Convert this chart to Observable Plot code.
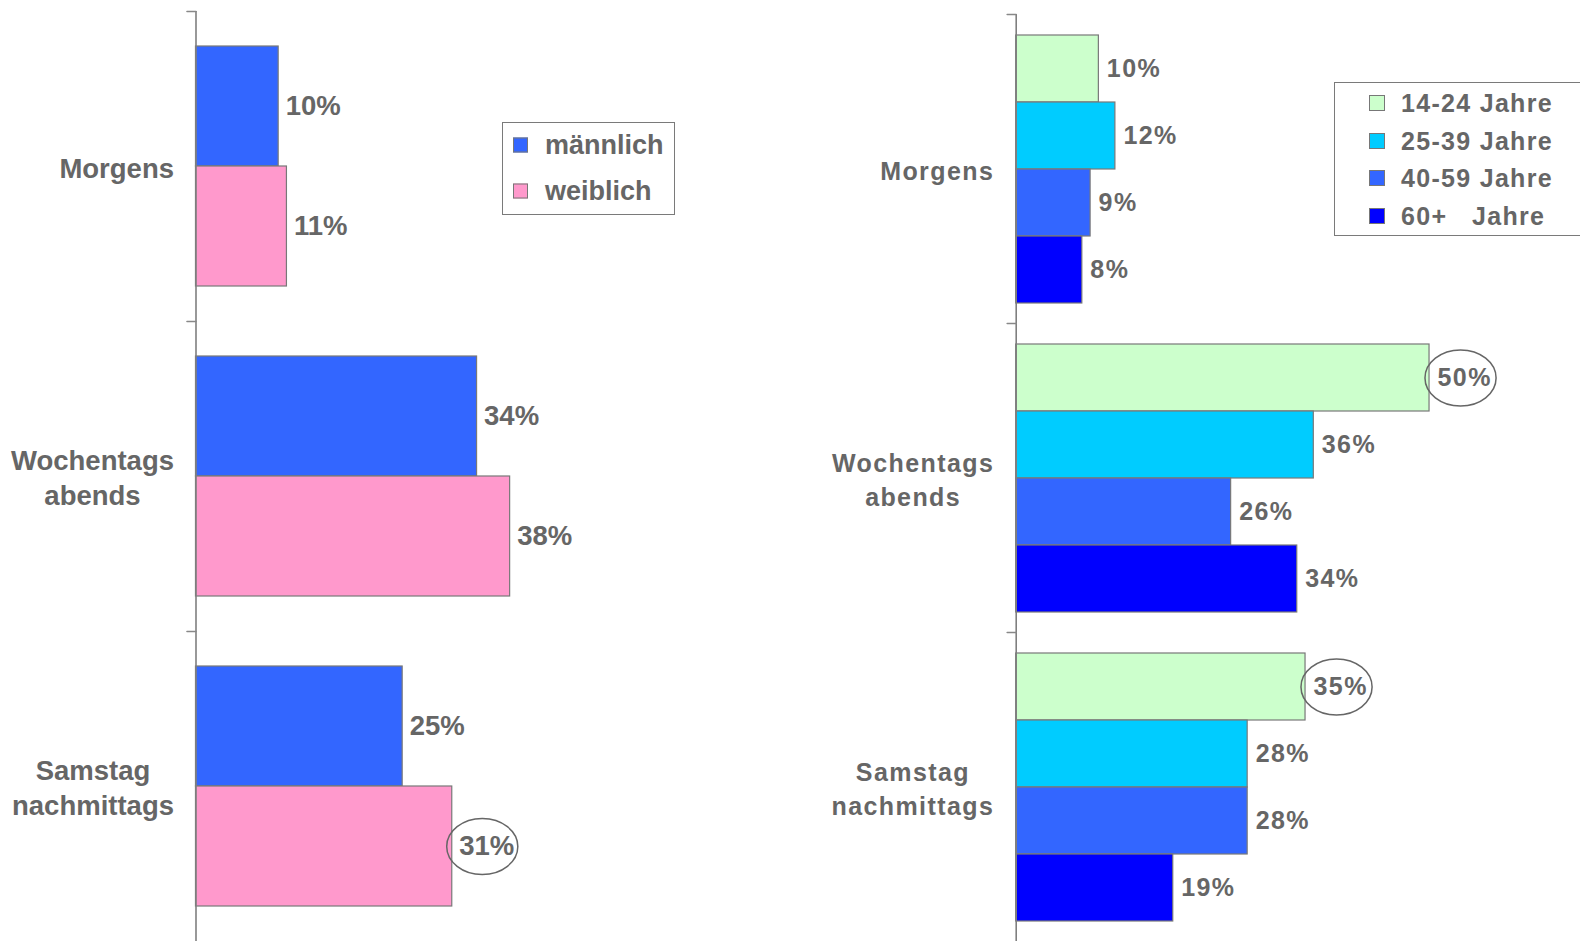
<!DOCTYPE html>
<html><head><meta charset="utf-8">
<script src="https://cdn.jsdelivr.net/npm/d3@7"></script>
<script src="https://cdn.jsdelivr.net/npm/@observablehq/plot@0.6"></script>
<style>
html,body{margin:0;padding:0;background:#fff;width:1580px;height:941px;overflow:hidden;font-family:"Liberation Sans",Arial,sans-serif;}
#wrap{position:relative;width:1580px;height:941px;overflow:hidden;}
.panel{position:absolute;top:0;}
.legend{position:absolute;border:1.5px solid #7a7a7a;background:#fff;box-sizing:border-box;}
.row{position:absolute;white-space:pre;color:#666;font-weight:bold;line-height:1;transform:translateY(-50%);}
.sw{position:absolute;box-sizing:border-box;border:1px solid #777;transform:translateY(-50%);}
</style></head><body><div id="wrap"></div>
<script>
// ---- data ----
const categories = ["Morgens", "Wochentags abends", "Samstag nachmittags"];
const genders = ["männlich", "weiblich"];
const genderColors = ["#3366FF", "#FF99CC"];
const maleValues = [10, 34, 25];
const femaleValues = [11, 38, 31];
const ageGroups = ["14-24 Jahre", "25-39 Jahre", "40-59 Jahre", "60+   Jahre"];
const ageColors = ["#CCFFCC", "#00CCFF", "#3366FF", "#0000FF"];
const age14to24 = [10, 50, 35];
const age25to39 = [12, 36, 28];
const age40to59 = [9, 26, 28];
const age60plus = [8, 34, 19];
const circledGender = ["Samstag nachmittags|weiblich"];
const circledAge = ["Wochentags abends|14-24 Jahre", "Samstag nachmittags|14-24 Jahre"];

function buildRows(series, valueArrays, circled) {
  return categories.flatMap((cat, i) => series.map((s, j) => ({
    cat, series: s, value: valueArrays[j][i], circled: circled.includes(cat + "|" + s)
  })));
}
const genderData = buildRows(genders, [maleValues, femaleValues], circledGender);
const ageData = buildRows(ageGroups, [age14to24, age25to39, age40to59, age60plus], circledAge);

const FONT = '"Liberation Sans", Arial, sans-serif';
const ellipse = {draw(ctx, size) {
  const r = Math.sqrt(size / Math.PI), rx = r * 1.27, ry = r, k = 0.5523;
  ctx.moveTo(rx, 0);
  ctx.bezierCurveTo(rx, k * ry, k * rx, ry, 0, ry);
  ctx.bezierCurveTo(-k * rx, ry, -rx, k * ry, -rx, 0);
  ctx.bezierCurveTo(-rx, -k * ry, -k * rx, -ry, 0, -ry);
  ctx.bezierCurveTo(k * rx, -ry, rx, -k * ry, rx, 0);
  ctx.closePath();
}};
const tickShape = {draw(ctx, l) { ctx.moveTo(0, 0); ctx.lineTo(0, -l); }};

function panel({data, series, colors, left, marginLeft, marginRight, marginTop, fontSize, letterSpacing, lineHeight, labelGap, valueGap}) {
  const cv = document.createElement("canvas").getContext("2d");
  cv.font = `bold ${fontSize}px ${FONT}`;
  const measure = s => cv.measureText(s).width + letterSpacing * s.length;
  const catMarks = categories.map(c => {
    const lines = c.split(" ");
    const w = Math.max(...lines.map(measure));
    return Plot.text([c], {fy: d => d, text: () => lines.join("\n"), frameAnchor: "left",
      textAnchor: "middle", dx: -labelGap - w / 2, lineHeight, fontSize, fontWeight: "bold", fill: "#666"});
  });
  const svg = Plot.plot({
    width: 790, height: 941, marginTop, marginBottom: 0, marginLeft, marginRight,
    style: {fontFamily: FONT, letterSpacing: letterSpacing + "px", background: "transparent"},
    x: {domain: [0, 60], axis: null},
    y: {domain: series, paddingInner: 0, paddingOuter: 0.29, axis: null},
    fy: {domain: categories, padding: 0, axis: null},
    color: {domain: series, range: colors},
    marks: [
      Plot.barX(data, {x: "value", y: "series", fy: "cat", fill: "series", stroke: "#787878", strokeWidth: 1.2}),
      Plot.ruleX([0], {stroke: "#7f7f7f", strokeWidth: 1.6}),
      Plot.vector(categories, {fy: d => d, x: () => 0, frameAnchor: "top", rotate: -90, length: 9,
        anchor: "start", shape: tickShape, stroke: "#888", strokeWidth: 1.6}),
      Plot.text(data, {x: "value", y: "series", fy: "cat", text: d => d.value + "%", dx: valueGap,
        textAnchor: "start", fontSize, fontWeight: "bold", fill: "#666"}),
      Plot.dot(data.filter(d => d.circled), {x: "value", y: "series", fy: "cat", dx: valueGap + 23,
        r: 28, symbol: ellipse, stroke: "#666", strokeWidth: 1.5, fill: "none"}),
      ...catMarks
    ]
  });
  svg.classList.add("panel");
  svg.style.left = left + "px";
  return svg;
}

function legend({items, colors, left, top, width, height, swLeft, swSize, firstRow, rowStep, textLeft, fontSize, letterSpacing}) {
  const box = document.createElement("div");
  box.className = "legend";
  Object.assign(box.style, {left: left + "px", top: top + "px", width: width + "px", height: height + "px"});
  items.forEach((it, i) => {
    const cy = firstRow + i * rowStep;
    const sw = document.createElement("div");
    sw.className = "sw";
    Object.assign(sw.style, {left: swLeft + "px", top: cy + "px", width: swSize + "px", height: swSize + "px", background: colors[i]});
    const tx = document.createElement("div");
    tx.className = "row";
    tx.textContent = it;
    Object.assign(tx.style, {left: textLeft + "px", top: cy + "px", fontSize: fontSize + "px", letterSpacing: letterSpacing + "px"});
    box.append(sw, tx);
  });
  return box;
}

const wrap = document.getElementById("wrap");
wrap.append(panel({data: genderData, series: genders, colors: genderColors, left: 0,
  marginLeft: 195.5, marginRight: 98.5, marginTop: 11, fontSize: 27.5, letterSpacing: 0,
  lineHeight: 1.25, labelGap: 22, valueGap: 7}));
wrap.append(panel({data: ageData, series: ageGroups, colors: ageColors, left: 790,
  marginLeft: 225.7, marginRight: 68.3, marginTop: 14, fontSize: 25, letterSpacing: 1.4,
  lineHeight: 1.37, labelGap: 22, valueGap: 8}));
wrap.append(legend({items: genders, colors: genderColors, left: 502, top: 122, width: 173, height: 93,
  swLeft: 10, swSize: 15, firstRow: 22, rowStep: 46, textLeft: 42, fontSize: 27, letterSpacing: 0}));
wrap.append(legend({items: ageGroups, colors: ageColors, left: 1334, top: 82, width: 260, height: 154,
  swLeft: 34, swSize: 16, firstRow: 20, rowStep: 37.6, textLeft: 66, fontSize: 25, letterSpacing: 1.3}));
</script></body></html>
